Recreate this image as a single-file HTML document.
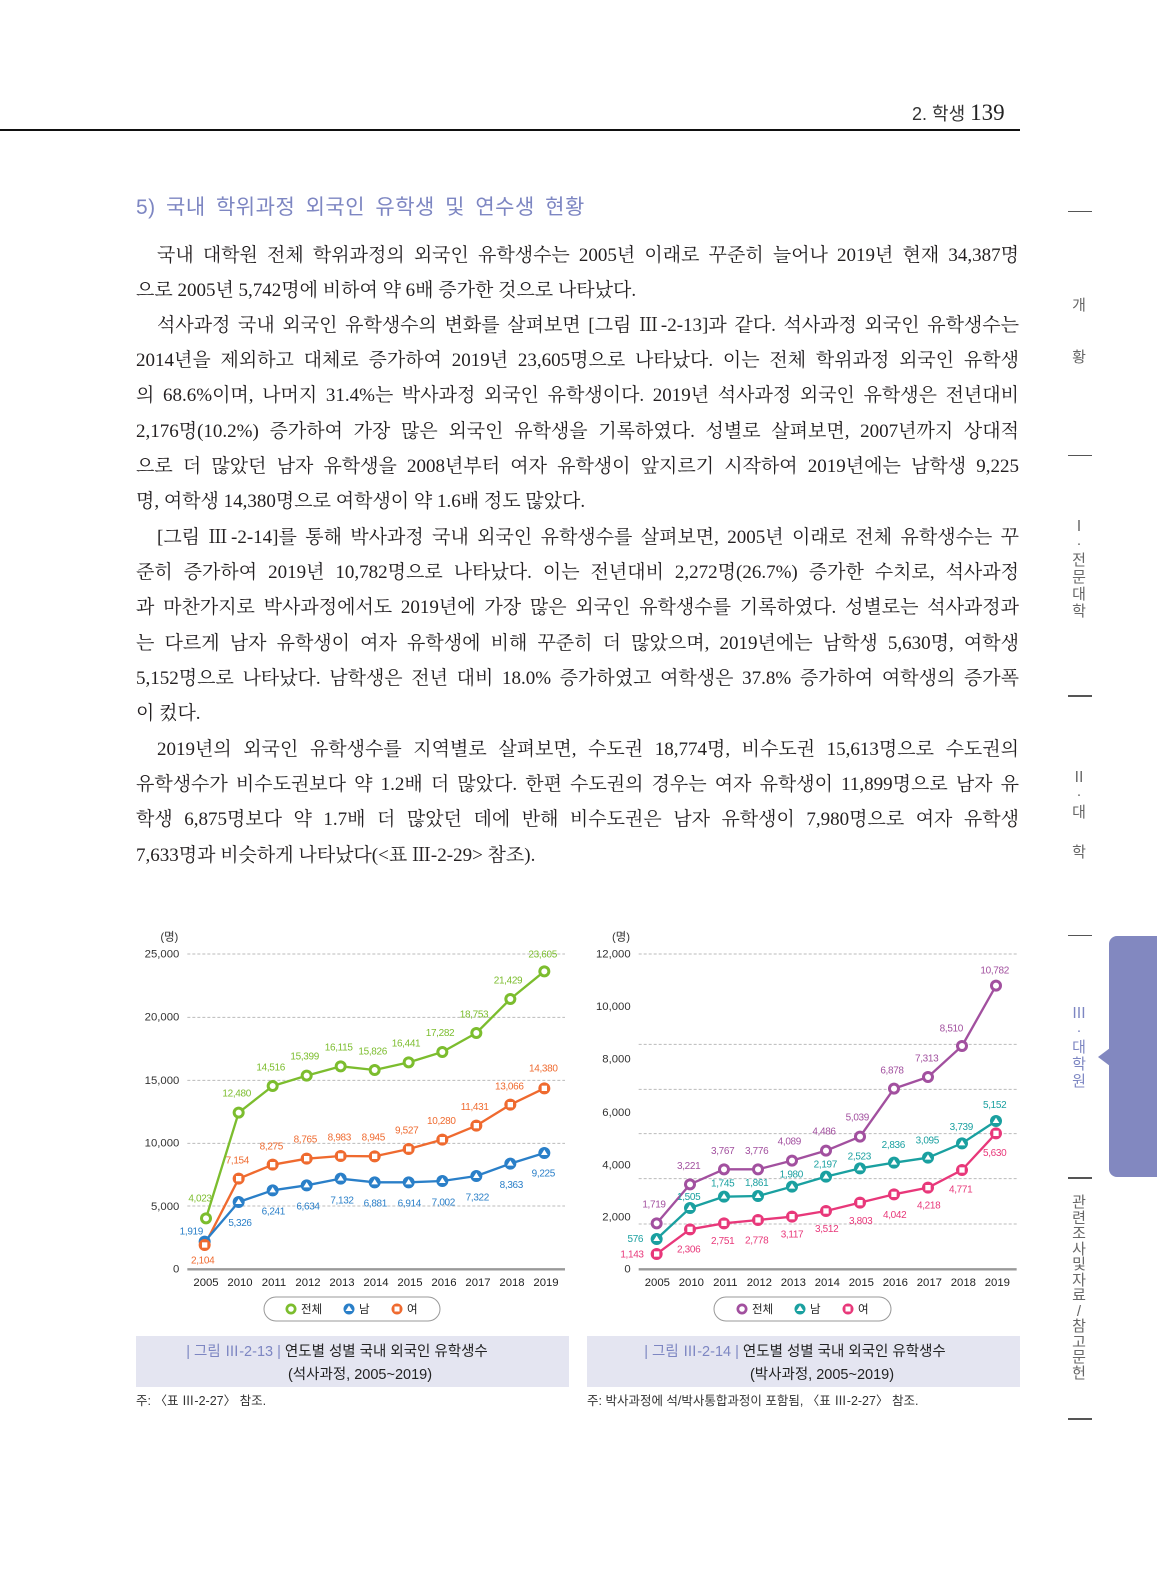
<!DOCTYPE html>
<html><head><meta charset="utf-8"><style>
body{margin:0;width:1159px;height:1571px;background:#fff;position:relative;overflow:hidden;font-family:"Liberation Serif","Noto Serif CJK SC",serif;color:#231f20}
.l{position:absolute;left:136px;width:883px;font-size:19px;line-height:35px;height:35px;text-align:justify;text-align-last:justify;letter-spacing:0;white-space:normal;overflow:hidden}
.in{left:157px;width:862px}
.nl{text-align-last:left}
.s{font-family:"Liberation Sans","Noto Sans CJK KR",sans-serif}
.side{position:absolute;left:1068px;width:24px;border-top:1px solid #555}
.vt{position:absolute;left:1068px;width:22px;text-align:center;font-family:"Liberation Sans","Noto Sans CJK KR",sans-serif;font-size:15px;color:#666;line-height:17px}
</style></head><body>
<div style="position:absolute;left:0;top:129px;width:1020px;height:2px;background:#111"></div>
<div class="s" style="position:absolute;left:912px;top:100px;font-size:18px;color:#333">2. 학생 <span style="font-family:'Liberation Serif',serif;font-size:23px;color:#222">139</span></div>
<div class="s" style="position:absolute;left:136px;top:191px;font-size:21px;color:#7d86c2;letter-spacing:0.5px;word-spacing:4px">5) 국내 학위과정 외국인 유학생 및 연수생 현황</div>

<div class="l in" style="top:238px">국내 대학원 전체 학위과정의 외국인 유학생수는 2005년 이래로 꾸준히 늘어나 2019년 현재 34,387명</div>
<div class="l nl" style="top:273px">으로 2005년 5,742명에 비하여 약 6배 증가한 것으로 나타났다.</div>
<div class="l in" style="top:308px">석사과정 국내 외국인 유학생수의 변화를 살펴보면 [그림 Ⅲ-2-13]과 같다. 석사과정 외국인 유학생수는</div>
<div class="l" style="top:343px">2014년을 제외하고 대체로 증가하여 2019년 23,605명으로 나타났다. 이는 전체 학위과정 외국인 유학생</div>
<div class="l" style="top:378px">의 68.6%이며, 나머지 31.4%는 박사과정 외국인 유학생이다. 2019년 석사과정 외국인 유학생은 전년대비</div>
<div class="l" style="top:414px">2,176명(10.2%) 증가하여 가장 많은 외국인 유학생을 기록하였다. 성별로 살펴보면, 2007년까지 상대적</div>
<div class="l" style="top:449px">으로 더 많았던 남자 유학생을 2008년부터 여자 유학생이 앞지르기 시작하여 2019년에는 남학생 9,225</div>
<div class="l nl" style="top:484px">명, 여학생 14,380명으로 여학생이 약 1.6배 정도 많았다.</div>
<div class="l in" style="top:520px">[그림 Ⅲ-2-14]를 통해 박사과정 국내 외국인 유학생수를 살펴보면, 2005년 이래로 전체 유학생수는 꾸</div>
<div class="l" style="top:555px">준히 증가하여 2019년 10,782명으로 나타났다. 이는 전년대비 2,272명(26.7%) 증가한 수치로, 석사과정</div>
<div class="l" style="top:590px">과 마찬가지로 박사과정에서도 2019년에 가장 많은 외국인 유학생수를 기록하였다. 성별로는 석사과정과</div>
<div class="l" style="top:626px">는 다르게 남자 유학생이 여자 유학생에 비해 꾸준히 더 많았으며, 2019년에는 남학생 5,630명, 여학생</div>
<div class="l" style="top:661px">5,152명으로 나타났다. 남학생은 전년 대비 18.0% 증가하였고 여학생은 37.8% 증가하여 여학생의 증가폭</div>
<div class="l nl" style="top:696px">이 컸다.</div>
<div class="l in" style="top:732px">2019년의 외국인 유학생수를 지역별로 살펴보면, 수도권 18,774명, 비수도권 15,613명으로 수도권의</div>
<div class="l" style="top:767px">유학생수가 비수도권보다 약 1.2배 더 많았다. 한편 수도권의 경우는 여자 유학생이 11,899명으로 남자 유</div>
<div class="l" style="top:802px">학생 6,875명보다 약 1.7배 더 많았던 데에 반해 비수도권은 남자 유학생이 7,980명으로 여자 유학생</div>
<div class="l nl" style="top:838px">7,633명과 비슷하게 나타났다(&lt;표 Ⅲ-2-29&gt; 참조).</div>

<!-- sidebar -->
<div class="side" style="top:211px"></div>
<div class="side" style="top:455px"></div>
<div class="side" style="top:695px;border-top:2px solid #555"></div>
<div class="side" style="top:935px"></div>
<div class="side" style="top:1177px;border-top:2px solid #555"></div>
<div class="side" style="top:1418px;border-top:2px solid #555"></div>
<div class="vt" style="top:297px">개</div>
<div class="vt" style="top:349px">황</div>
<div class="vt" style="top:518px">Ⅰ<br>·<br>전<br>문<br>대<br>학</div>
<div class="vt" style="top:769px">Ⅱ<br>·</div>
<div class="vt" style="top:804px">대</div>
<div class="vt" style="top:844px">학</div>
<div class="vt" style="top:1005px;color:#7d86c2">Ⅲ<br>·<br>대<br>학<br>원</div>
<div class="vt" style="top:1195px;line-height:15.5px">관<br>련<br>조<br>사<br>및<br>자<br>료<br>/<br>참<br>고<br>문<br>헌</div>
<div style="position:absolute;left:1109px;top:936px;width:48px;height:241px;background:#8288c0;border-radius:8px 0 0 8px"></div>
<div style="position:absolute;left:1098px;top:1048px;width:0;height:0;border-top:9px solid transparent;border-bottom:9px solid transparent;border-right:12px solid #8288c0"></div>

<svg style="position:absolute;left:0;top:0" width="1159" height="1571" font-family="Liberation Sans, Noto Sans CJK KR, sans-serif">
<g transform="translate(130,920) scale(0.33333)">
<g stroke="#bbb" stroke-width="3" stroke-dasharray="9,6"><line x1="172" y1="102" x2="1305" y2="102"/><line x1="172" y1="292" x2="1305" y2="292"/><line x1="172" y1="481" x2="1305" y2="481"/><line x1="172" y1="670" x2="1305" y2="670"/><line x1="172" y1="858" x2="1305" y2="858"/></g>
<line x1="172" y1="1048" x2="1305" y2="1048" stroke="#999" stroke-width="7"/>
<g font-size="34" fill="#333" text-anchor="end"><text x="145" y="62">(명)</text><text x="148" y="112">25,000</text><text x="148" y="302">20,000</text><text x="148" y="492">15,000</text><text x="148" y="680">10,000</text><text x="148" y="870">5,000</text><text x="148" y="1058">0</text></g>
<g font-size="34" fill="#222" text-anchor="middle"><text x="228" y="1098">2005</text><text x="330" y="1098">2010</text><text x="432" y="1098">2011</text><text x="534" y="1098">2012</text><text x="636" y="1098">2013</text><text x="738" y="1098">2014</text><text x="840" y="1098">2015</text><text x="942" y="1098">2016</text><text x="1044" y="1098">2017</text><text x="1146" y="1098">2018</text><text x="1248" y="1098">2019</text></g>
<g fill="none" stroke-width="7" stroke-linejoin="round">
<polyline stroke="#7cbd2e" points="228,895 326,578 428,498 530,467 632,439 734,450 836,427 937,396 1039,339 1141,237 1243,154"/>
<polyline stroke="#ef6a2f" points="224,975 326,776 428,734 530,716 632,708 734,709 836,687 937,659 1039,617 1141,554 1243,505"/>
<polyline stroke="#2a7fc8" points="224,965 326,846 428,811 530,796 632,776 734,787 836,787 937,783 1039,768 1141,731 1243,699"/>
</g>
<g fill="#7cbd2e"><circle cx="228" cy="895" r="18"/><circle cx="326" cy="578" r="18"/><circle cx="428" cy="498" r="18"/><circle cx="530" cy="467" r="18"/><circle cx="632" cy="439" r="18"/><circle cx="734" cy="450" r="18"/><circle cx="836" cy="427" r="18"/><circle cx="937" cy="396" r="18"/><circle cx="1039" cy="339" r="18"/><circle cx="1141" cy="237" r="18"/><circle cx="1243" cy="154" r="18"/></g>
<g fill="#fff"><circle cx="228" cy="895" r="9"/><circle cx="326" cy="578" r="9"/><circle cx="428" cy="498" r="9"/><circle cx="530" cy="467" r="9"/><circle cx="632" cy="439" r="9"/><circle cx="734" cy="450" r="9"/><circle cx="836" cy="427" r="9"/><circle cx="937" cy="396" r="9"/><circle cx="1039" cy="339" r="9"/><circle cx="1141" cy="237" r="9"/><circle cx="1243" cy="154" r="9"/></g>
<g fill="#2a7fc8"><circle cx="224" cy="965" r="18"/><circle cx="326" cy="846" r="18"/><circle cx="428" cy="811" r="18"/><circle cx="530" cy="796" r="18"/><circle cx="632" cy="776" r="18"/><circle cx="734" cy="787" r="18"/><circle cx="836" cy="787" r="18"/><circle cx="937" cy="783" r="18"/><circle cx="1039" cy="768" r="18"/><circle cx="1141" cy="731" r="18"/><circle cx="1243" cy="699" r="18"/></g>
<g fill="#ef6a2f"><circle cx="224" cy="975" r="18"/><circle cx="326" cy="776" r="18"/><circle cx="428" cy="734" r="18"/><circle cx="530" cy="716" r="18"/><circle cx="632" cy="708" r="18"/><circle cx="734" cy="709" r="18"/><circle cx="836" cy="687" r="18"/><circle cx="937" cy="659" r="18"/><circle cx="1039" cy="617" r="18"/><circle cx="1141" cy="554" r="18"/><circle cx="1243" cy="505" r="18"/></g>
<g fill="#fff"><rect x="216" y="967" width="16" height="16"/><rect x="318" y="768" width="16" height="16"/><rect x="420" y="726" width="16" height="16"/><rect x="522" y="708" width="16" height="16"/><rect x="624" y="700" width="16" height="16"/><rect x="726" y="701" width="16" height="16"/><rect x="828" y="679" width="16" height="16"/><rect x="929" y="651" width="16" height="16"/><rect x="1031" y="609" width="16" height="16"/><rect x="1133" y="546" width="16" height="16"/><rect x="1235" y="497" width="16" height="16"/>
<path d="M326,836 l10,16 h-20z M428,801 l10,16 h-20z M530,786 l10,16 h-20z M632,766 l10,16 h-20z M734,777 l10,16 h-20z M836,777 l10,16 h-20z M937,773 l10,16 h-20z M1039,758 l10,16 h-20z M1141,721 l10,16 h-20z M1243,689 l10,16 h-20z"/></g>
<g font-size="30" text-anchor="middle" letter-spacing="-1">
<g fill="#7cbd2e"><text x="210" y="845">4,023</text><text x="320" y="530">12,480</text><text x="422" y="452">14,516</text><text x="524" y="418">15,399</text><text x="626" y="392">16,115</text><text x="728" y="403">15,826</text><text x="828" y="380">16,441</text><text x="930" y="348">17,282</text><text x="1032" y="292">18,753</text><text x="1134" y="190">21,429</text><text x="1238" y="112">23,605</text></g>
<g fill="#ef6a2f"><text x="218" y="1030">2,104</text><text x="322" y="730">7,154</text><text x="424" y="688">8,275</text><text x="526" y="668">8,765</text><text x="628" y="662">8,983</text><text x="730" y="662">8,945</text><text x="830" y="640">9,527</text><text x="934" y="612">10,280</text><text x="1034" y="570">11,431</text><text x="1138" y="508">13,066</text><text x="1240" y="455">14,380</text></g>
<g fill="#2a7fc8"><text x="184" y="944">1,919</text><text x="330" y="918">5,326</text><text x="430" y="884">6,241</text><text x="534" y="868">6,634</text><text x="636" y="850">7,132</text><text x="736" y="860">6,881</text><text x="838" y="860">6,914</text><text x="940" y="856">7,002</text><text x="1042" y="842">7,322</text><text x="1144" y="804">8,363</text><text x="1240" y="770">9,225</text></g>
</g>
</g>

<g transform="translate(580,920) scale(0.33333)">
<g stroke="#bbb" stroke-width="3" stroke-dasharray="9,6"><line x1="176" y1="102" x2="1310" y2="102"/><line x1="176" y1="373" x2="1310" y2="373"/><line x1="176" y1="508" x2="1310" y2="508"/><line x1="176" y1="641" x2="1310" y2="641"/><line x1="176" y1="776" x2="1310" y2="776"/><line x1="176" y1="912" x2="1310" y2="912"/></g>
<line x1="176" y1="1048" x2="1310" y2="1048" stroke="#999" stroke-width="7"/>
<g font-size="34" fill="#333" text-anchor="end"><text x="150" y="62">(명)</text><text x="152" y="112">12,000</text><text x="152" y="270">10,000</text><text x="152" y="428">8,000</text><text x="152" y="588">6,000</text><text x="152" y="745">4,000</text><text x="152" y="902">2,000</text><text x="152" y="1058">0</text></g>
<g font-size="34" fill="#222" text-anchor="middle"><text x="232" y="1098">2005</text><text x="334" y="1098">2010</text><text x="436" y="1098">2011</text><text x="538" y="1098">2012</text><text x="640" y="1098">2013</text><text x="742" y="1098">2014</text><text x="844" y="1098">2015</text><text x="946" y="1098">2016</text><text x="1048" y="1098">2017</text><text x="1150" y="1098">2018</text><text x="1252" y="1098">2019</text></g>
<g fill="none" stroke-width="7" stroke-linejoin="round">
<polyline stroke="#a2509f" points="230,910 330,793 432,748 534,748 636,722 738,692 840,650 942,506 1044,471 1146,378 1248,197"/>
<polyline stroke="#1aa0a0" points="230,957 330,864 432,830 534,828 636,800 738,770 840,745 942,728 1044,713 1146,670 1248,603"/>
<polyline stroke="#e8387a" points="230,1002 330,928 432,910 534,900 636,890 738,873 840,848 942,823 1044,803 1146,750 1248,640"/>
</g>
<g fill="#a2509f"><circle cx="230" cy="910" r="18"/><circle cx="330" cy="793" r="18"/><circle cx="432" cy="748" r="18"/><circle cx="534" cy="748" r="18"/><circle cx="636" cy="722" r="18"/><circle cx="738" cy="692" r="18"/><circle cx="840" cy="650" r="18"/><circle cx="942" cy="506" r="18"/><circle cx="1044" cy="471" r="18"/><circle cx="1146" cy="378" r="18"/><circle cx="1248" cy="197" r="18"/></g>
<g fill="#fff"><circle cx="230" cy="910" r="9"/><circle cx="330" cy="793" r="9"/><circle cx="432" cy="748" r="9"/><circle cx="534" cy="748" r="9"/><circle cx="636" cy="722" r="9"/><circle cx="738" cy="692" r="9"/><circle cx="840" cy="650" r="9"/><circle cx="942" cy="506" r="9"/><circle cx="1044" cy="471" r="9"/><circle cx="1146" cy="378" r="9"/><circle cx="1248" cy="197" r="9"/></g>
<g fill="#1aa0a0"><circle cx="230" cy="957" r="18"/><circle cx="330" cy="864" r="18"/><circle cx="432" cy="830" r="18"/><circle cx="534" cy="828" r="18"/><circle cx="636" cy="800" r="18"/><circle cx="738" cy="770" r="18"/><circle cx="840" cy="745" r="18"/><circle cx="942" cy="728" r="18"/><circle cx="1044" cy="713" r="18"/><circle cx="1146" cy="670" r="18"/><circle cx="1248" cy="603" r="18"/></g>
<g fill="#e8387a"><circle cx="230" cy="1002" r="18"/><circle cx="330" cy="928" r="18"/><circle cx="432" cy="910" r="18"/><circle cx="534" cy="900" r="18"/><circle cx="636" cy="890" r="18"/><circle cx="738" cy="873" r="18"/><circle cx="840" cy="848" r="18"/><circle cx="942" cy="823" r="18"/><circle cx="1044" cy="803" r="18"/><circle cx="1146" cy="750" r="18"/><circle cx="1248" cy="640" r="18"/></g>
<g fill="#fff"><rect x="222" y="994" width="16" height="16"/><rect x="322" y="920" width="16" height="16"/><rect x="424" y="902" width="16" height="16"/><rect x="526" y="892" width="16" height="16"/><rect x="628" y="882" width="16" height="16"/><rect x="730" y="865" width="16" height="16"/><rect x="832" y="840" width="16" height="16"/><rect x="934" y="815" width="16" height="16"/><rect x="1036" y="795" width="16" height="16"/><rect x="1138" y="742" width="16" height="16"/><rect x="1240" y="632" width="16" height="16"/>
<path d="M230,947 l10,16 h-20z M330,854 l10,16 h-20z M432,820 l10,16 h-20z M534,818 l10,16 h-20z M636,790 l10,16 h-20z M738,760 l10,16 h-20z M840,735 l10,16 h-20z M942,718 l10,16 h-20z M1044,703 l10,16 h-20z M1146,660 l10,16 h-20z M1248,593 l10,16 h-20z"/></g>
<g font-size="30" text-anchor="middle" letter-spacing="-1">
<g fill="#a2509f"><text x="222" y="862">1,719</text><text x="326" y="747">3,221</text><text x="428" y="702">3,767</text><text x="530" y="702">3,776</text><text x="628" y="674">4,089</text><text x="732" y="644">4,486</text><text x="832" y="602">5,039</text><text x="936" y="460">6,878</text><text x="1040" y="425">7,313</text><text x="1114" y="334">8,510</text><text x="1244" y="160">10,782</text></g>
<g fill="#1aa0a0"><text x="166" y="966">576</text><text x="326" y="840">1,505</text><text x="428" y="800">1,745</text><text x="530" y="798">1,861</text><text x="634" y="772">1,980</text><text x="736" y="742">2,197</text><text x="838" y="718">2,523</text><text x="940" y="684">2,836</text><text x="1042" y="670">3,095</text><text x="1144" y="630">3,739</text><text x="1244" y="564">5,152</text></g>
<g fill="#e8387a"><text x="156" y="1012">1,143</text><text x="326" y="997">2,306</text><text x="428" y="972">2,751</text><text x="530" y="970">2,778</text><text x="636" y="952">3,117</text><text x="740" y="936">3,512</text><text x="842" y="912">3,803</text><text x="944" y="894">4,042</text><text x="1046" y="866">4,218</text><text x="1142" y="818">4,771</text><text x="1244" y="708">5,630</text></g>
</g>
</g>

<g font-size="11.5" fill="#222">
<rect x="264" y="1297" width="176" height="24" rx="12" fill="#fff" stroke="#999" stroke-width="1"/>
<circle cx="291" cy="1309" r="5.5" fill="#7cbd2e"/><circle cx="291" cy="1309" r="2.8" fill="#fff"/><text x="301" y="1313">전체</text>
<circle cx="349" cy="1309" r="5.5" fill="#2a7fc8"/><path d="M349,1305.5 l3.5,5.5 h-7z" fill="#fff"/><text x="359" y="1313">남</text>
<circle cx="397" cy="1309" r="5.5" fill="#ef6a2f"/><rect x="394.5" y="1306.5" width="5" height="5" fill="#fff"/><text x="407" y="1313">여</text>
<rect x="714" y="1297" width="177" height="24" rx="12" fill="#fff" stroke="#999" stroke-width="1"/>
<circle cx="742" cy="1309" r="5.5" fill="#a2509f"/><circle cx="742" cy="1309" r="2.8" fill="#fff"/><text x="752" y="1313">전체</text>
<circle cx="800" cy="1309" r="5.5" fill="#1aa0a0"/><path d="M800,1305.5 l3.5,5.5 h-7z" fill="#fff"/><text x="810" y="1313">남</text>
<circle cx="848" cy="1309" r="5.5" fill="#e8387a"/><rect x="845.5" y="1306.5" width="5" height="5" fill="#fff"/><text x="858" y="1313">여</text>
</g>
<rect x="136" y="1336" width="433" height="51" fill="#e4e5f1"/>
<rect x="587" y="1336" width="433" height="51" fill="#e4e5f1"/>
<g font-size="14.5" text-anchor="middle" fill="#222">
<text x="337" y="1356"><tspan fill="#7d86c2">| 그림 Ⅲ-2-13 |</tspan> 연도별 성별 국내 외국인 유학생수</text>
<text x="360" y="1379">(석사과정, 2005~2019)</text>
<text x="795" y="1356"><tspan fill="#7d86c2">| 그림 Ⅲ-2-14 |</tspan> 연도별 성별 국내 외국인 유학생수</text>
<text x="822" y="1379">(박사과정, 2005~2019)</text>
</g>
<g font-size="12.5" fill="#333">
<text x="136" y="1405">주: 〈표 Ⅲ-2-27〉 참조.</text>
<text x="587" y="1405">주: 박사과정에 석/박사통합과정이 포함됨, 〈표 Ⅲ-2-27〉 참조.</text>
</g>
</svg>
</body></html>
